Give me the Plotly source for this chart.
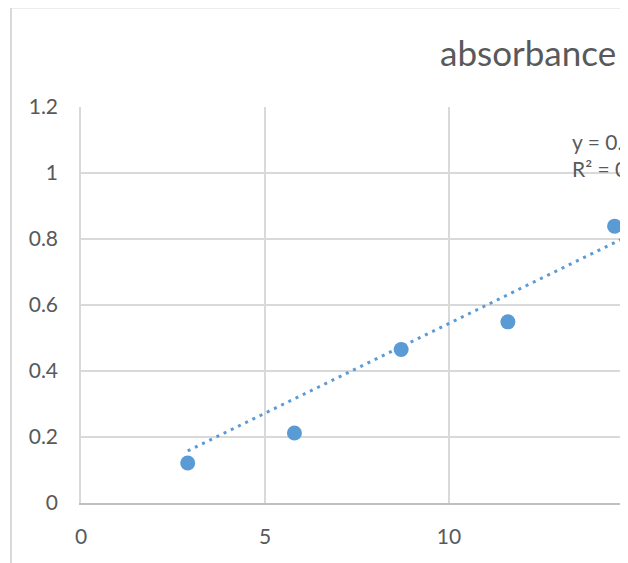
import plotly.graph_objects as go

# data
conc = [2.9, 5.8, 8.7, 11.6, 14.5]
absorbance = [0.121, 0.212, 0.465, 0.549, 0.839]
trend_slope = 0.0544
trend_intercept = 0.0002
trend_x = [2.9, 20.0]
x_ticks = [0, 5, 10, 15, 20]
y_ticks = [0, 0.2, 0.4, 0.6, 0.8, 1, 1.2]
y_tick_text = ["0", "0.2", "0.4", "0.6", "0.8", "1", "1.2"]
title_text = "absorbance"
eq_text = "y = 0.0544x + 0.0002<br>R² = 0.9657"

OFF = 8  # page body margin
W, H = 628 - OFF, 563 - OFF
# plot area in page pixels
PL, PT, PB = 81, 107, 503
L = PL - OFF
T = PT - OFF
B = H - (PB - OFF)
pw = W - L
ph = H - T - B
px_per_unit = 184 / 5.0
xmax = pw / px_per_unit

def px_to_paper_x(px):  # page px -> paper
    return (px - PL) / pw

def px_to_paper_y(py):
    return (PB - py) / ph

blue = "#5B9BD5"
grid = "#D9D9D9"
txt = "#595959"
font_family = "Lato, 'Open Sans', sans-serif"

fig = go.Figure()
fig.add_trace(go.Scatter(
    x=trend_x,
    y=[trend_slope * v + trend_intercept for v in trend_x],
    mode="lines",
    line=dict(color=blue, width=3, dash="3px,5px"),
    hoverinfo="skip",
    showlegend=False,
))
fig.add_trace(go.Scatter(
    x=conc, y=absorbance, mode="markers",
    marker=dict(color=blue, size=15, line=dict(width=0)),
    showlegend=False,
))

fig.update_layout(
    width=W, height=H,
    margin=dict(l=L, r=0, t=T, b=B, pad=0),
    paper_bgcolor="white", plot_bgcolor="white",
    font=dict(family=font_family, color=txt, size=21),
    showlegend=False,
)
fig.update_xaxes(
    range=[0, xmax], tickvals=x_ticks, ticktext=[str(v) for v in x_ticks],
    showgrid=True, gridcolor=grid, gridwidth=1.5,
    showline=True, linecolor="#BFBFBF", linewidth=1.5,
    zeroline=False, ticks="outside", ticklen=14, tickcolor="rgba(0,0,0,0)",
    tickfont=dict(size=21, color=txt, family=font_family),
)
fig.update_yaxes(
    range=[0, 1.2], tickvals=y_ticks, ticktext=y_tick_text,
    showgrid=True, gridcolor=grid, gridwidth=1.5,
    showline=True, linecolor=grid, linewidth=1.5,
    zeroline=False, ticks="outside", ticklen=17, tickcolor="rgba(0,0,0,0)",
    tickfont=dict(size=21, color=txt, family=font_family),
)

# chart-area border (left and top visible)
bx = px_to_paper_x(11)
by = px_to_paper_y(7.5)
fig.add_shape(type="line", xref="paper", yref="paper", x0=bx, x1=1.5, y0=by, y1=by,
              line=dict(color=grid, width=2))
fig.add_shape(type="line", xref="paper", yref="paper", x0=bx, x1=bx, y0=by, y1=-1,
              line=dict(color=grid, width=2))

fig.add_annotation(text=title_text, xref="paper", yref="paper",
                   x=px_to_paper_x(438), y=px_to_paper_y(52), xanchor="left", yanchor="middle",
                   showarrow=False, font=dict(size=35, color=txt, family=font_family))
fig.add_annotation(text=eq_text, xref="paper", yref="paper",
                   x=px_to_paper_x(570), y=px_to_paper_y(155), xanchor="left", yanchor="middle",
                   align="left", showarrow=False,
                   font=dict(size=21, color=txt, family=font_family))

fig.write_html("out.html")
